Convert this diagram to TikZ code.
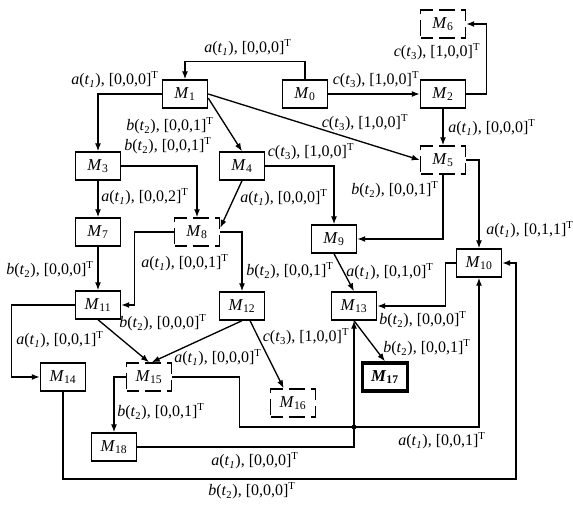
\documentclass[tikz,border=0pt]{standalone}
\usepackage{fontspec}
\setmainfont{Liberation Serif}
\usetikzlibrary{arrows.meta}
\newcommand{\lbl}[3]{\textit{#1}(\textit{t}\textsubscript{#2}), [#3]\textsuperscript{T}}
\newcommand{\Mn}[1]{\textit{M}\textsubscript{#1}}
\begin{document}
\begin{tikzpicture}[x=0.75pt,y=-0.75pt,
  box/.style={draw, line width=1.1pt, minimum width=33.75pt, minimum height=21pt, inner sep=0pt, font=\fontsize{12.5}{14}\selectfont},
  dbox/.style={box, dashed, dash pattern=on 12pt off 4.5pt, dash phase=3pt},
  fbox/.style={box, line width=2.4pt},
  arr/.style={-{Latex[length=6pt,width=4.5pt]}, line width=1pt},
  lab/.style={inner sep=0pt, font=\fontsize{12}{14}\selectfont}]
\useasboundingbox (0,0) rectangle (573,505);
% nodes
\node[box]  (M0)  at (305,94)  {\Mn{0}};
\node[box]  (M1)  at (185,94)  {\Mn{1}};
\node[box]  (M2)  at (443,94)  {\Mn{2}};
\node[dbox] (M6)  at (443,24)  {\Mn{6}};
\node[box]  (M3)  at (98,166)  {\Mn{3}};
\node[box]  (M4)  at (242,166) {\Mn{4}};
\node[dbox] (M5)  at (443,160) {\Mn{5}};
\node[box]  (M7)  at (98,232)  {\Mn{7}};
\node[dbox] (M8)  at (197,232) {\Mn{8}};
\node[box]  (M9)  at (334,239) {\Mn{9}};
\node[box]  (M10) at (479,263) {\Mn{10}};
\node[box]  (M11) at (98,305)  {\Mn{11}};
\node[box]  (M12) at (242,306) {\Mn{12}};
\node[box]  (M13) at (354,306) {\Mn{13}};
\node[box]  (M14) at (63,377)  {\Mn{14}};
\node[dbox] (M15) at (149,377) {\Mn{15}};
\node[dbox] (M16) at (293,403) {\Mn{16}};
\node[fbox] (M17) at (385,377) {\textbf{\Mn{17}}};
\node[box]  (M18) at (114,447) {\Mn{18}};
% connectors
\draw[arr] (M0.north) -- ++(0,-18) -| (M1.north);
\draw[arr] (M0.east) -- (M2.west);
\draw[arr] (M2.east) -- ++(20,0) |- (M6.east);
\draw[arr] (M2.south) -- (M5.north);
\draw[arr] (M1.east) -- (M5.west);
\draw[arr] (M1.west) -| (M3.north);
\draw[arr] (M1.-10) -- (M4.north);
\draw[arr] (M3.east) -| (M8.north);
\draw[arr] (M4.east) -| (M9.north);
\draw[arr] (M4.south) -- (M8.10);
\draw[arr] (M3.south) -- (M7.north);
\draw[arr] (M7.south) -- (M11.north);
\draw[arr] (M8.west) -- ++(-39,0) |- (M11.east);
\draw[arr] (M8.east) -| (M12.north);
\draw[arr] (M5.south) |- (M9.east);
\draw[arr] (M5.east) -| (M10.north);
\draw[arr] (M9.south) -- (M13.north);
\draw[arr] (M10.west) -- ++(-10,0) |- (M13.east);
\draw[arr] (M13.south) -- (M17.north);
\draw[arr] (M11.west) -- ++(-63,0) |- (M14.west);
\draw[arr] (M11.south) -- (M15.north);
\draw[arr] (M12.south) -- ([xshift=2pt]M15.north);
\draw[arr] ([xshift=6pt]M12.south) -- ([xshift=-7pt]M16.north);
\draw[arr] (M15.west) -| (M18.north);
\draw[arr] (M15.east) -- ++(67,0) -- ++(0,50) coordinate (J0) -| (M10.south);
\draw[arr] (M18.east) -| (M13.south);
\fill (M13.south |- J0) circle (1.8pt);
\draw[arr] (M14.south) |- (516,479) |- (M10.east);
% labels
\node[lab] (L1)  at (248,48)  {\lbl{a}{\textit{1}}{0,0,0}};
\node[lab] (L2)  at (376,80)  {\lbl{c}{3}{1,0,0}};
\node[lab] (L3)  at (437,52)  {\lbl{c}{3}{1,0,0}};
\node[lab] (L4)  at (492,128) {\lbl{a}{\textit{1}}{0,0,0}};
\node[lab] (L5)  at (365,123) {\lbl{c}{3}{1,0,0}};
\node[lab] (L6)  at (115,80)  {\lbl{a}{\textit{1}}{0,0,0}};
\node[lab] (L7)  at (170,126) {\lbl{b}{2}{0,0,1}};
\node[lab] (L8)  at (168,146) {\lbl{b}{2}{0,0,1}};
\node[lab] (L9)  at (311,152) {\lbl{c}{3}{1,0,0}};
\node[lab] (L10) at (284,198) {\lbl{a}{\textit{1}}{0,0,0}};
\node[lab] (L11) at (145,197) {\lbl{a}{\textit{1}}{0,0,2}};
\node[lab] (L12) at (50,270)  {\lbl{b}{2}{0,0,0}};
\node[lab] (L13) at (185,263) {\lbl{a}{\textit{1}}{0,0,1}};
\node[lab] (L14) at (290,271) {\lbl{b}{2}{0,0,1}};
\node[lab] (L15) at (395,190) {\lbl{b}{2}{0,0,1}};
\node[lab] (L16) at (530,230) {\lbl{a}{\textit{1}}{0,1,1}};
\node[lab] (L17) at (390,272) {\lbl{a}{\textit{1}}{0,1,0}};
\node[lab] (L18) at (423,320) {\lbl{b}{2}{0,0,0}};
\node[lab] (L19) at (427,348) {\lbl{b}{2}{0,0,1}};
\node[lab] (L20) at (60,340)  {\lbl{a}{\textit{1}}{0,0,1}};
\node[lab] (L21) at (163,323) {\lbl{b}{2}{0,0,0}};
\node[lab] (L22) at (218,358) {\lbl{a}{\textit{1}}{0,0,0}};
\node[lab] (L23) at (306,337) {\lbl{c}{3}{1,0,0}};
\node[lab] (L24) at (161,412) {\lbl{b}{2}{0,0,1}};
\node[lab] (L25) at (442,441) {\lbl{a}{\textit{1}}{0,0,1}};
\node[lab] (L26) at (255,461) {\lbl{a}{\textit{1}}{0,0,0}};
\node[lab] (L27) at (252,491) {\lbl{b}{2}{0,0,0}};
\end{tikzpicture}
\end{document}
